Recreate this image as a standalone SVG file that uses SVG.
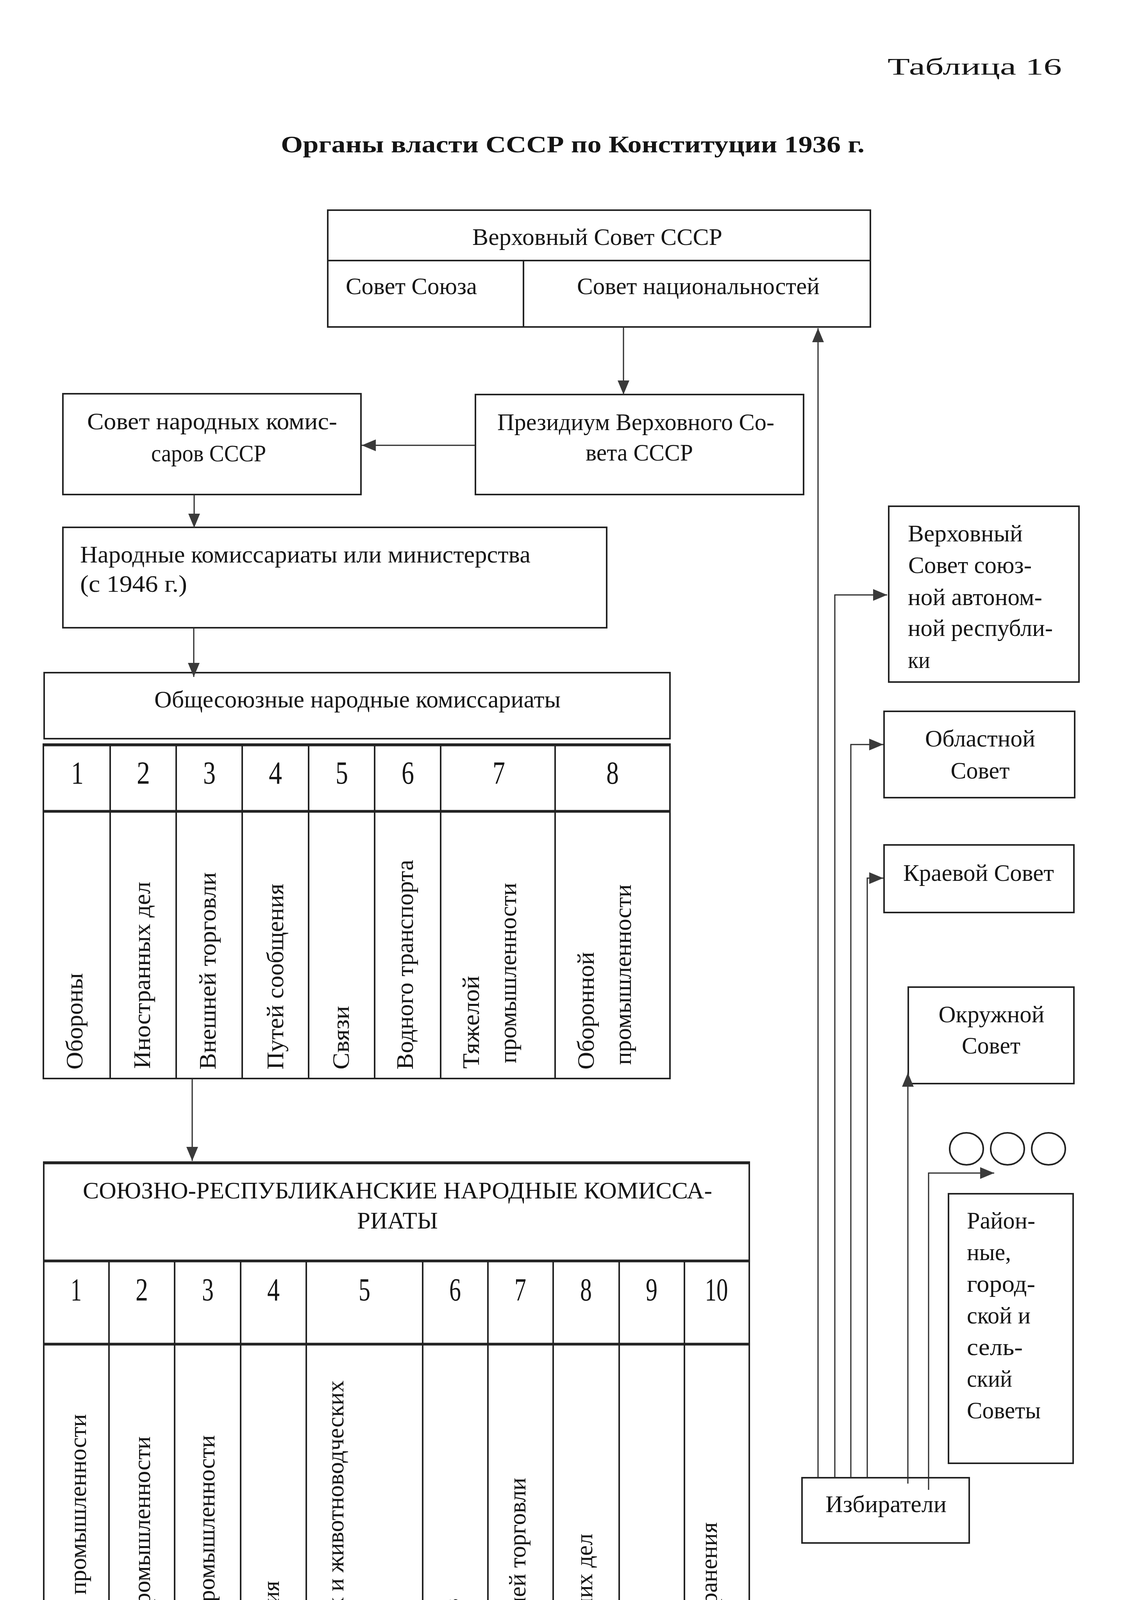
<svg xmlns="http://www.w3.org/2000/svg" width="2931" height="4597" viewBox="0 0 2931 4597">
<style>
text{font-family:"Liberation Serif","Times New Roman",serif;fill:#151515;font-size:62px}
.box{fill:none;stroke:#222;stroke-width:4}
.ln{fill:none;stroke:#222;stroke-width:4}
.thick{fill:none;stroke:#222;stroke-width:7}
.con{fill:none;stroke:#2a2a2a;stroke-width:3}
.num{font-size:82px}
.mid{text-anchor:middle}
</style>
<defs>
<marker id="ah" markerUnits="userSpaceOnUse" markerWidth="36" markerHeight="30" refX="36" refY="15" orient="auto">
<path d="M0,0 L36,15 L0,30 z" fill="#3a3a3a"/>
</marker>
</defs>
<rect width="2931" height="4597" fill="#ffffff"/>

<g id="header">
<text x="2272" y="191" font-size="82" textLength="446" lengthAdjust="spacingAndGlyphs">Таблица 16</text>
<text x="719" y="390" font-size="80" font-weight="bold" textLength="1494" lengthAdjust="spacingAndGlyphs">Органы власти СССР по Конституции 1936 г.</text>
</g>

<g id="supreme-soviet">
<rect class="box" x="839" y="538" width="1389" height="299"/>
<line class="ln" x1="839" y1="667" x2="2228" y2="667"/>
<line class="ln" x1="1340" y1="667" x2="1340" y2="837"/>
<text x="1209" y="627" textLength="640" lengthAdjust="spacingAndGlyphs">Верховный Совет СССР</text>
<text x="885" y="753" textLength="336" lengthAdjust="spacingAndGlyphs">Совет Союза</text>
<text x="1477" y="753" textLength="621" lengthAdjust="spacingAndGlyphs">Совет национальностей</text>
</g>

<g id="presidium">
<rect class="box" x="1217" y="1010" width="840" height="256"/>
<text x="1273" y="1101" textLength="709" lengthAdjust="spacingAndGlyphs">Президиум Верховного Со-</text>
<text x="1499" y="1179" textLength="275" lengthAdjust="spacingAndGlyphs">вета СССР</text>
</g>

<g id="snk">
<rect class="box" x="161" y="1008" width="763" height="258"/>
<text x="223" y="1099" textLength="640" lengthAdjust="spacingAndGlyphs">Совет народных комис-</text>
<text x="387" y="1181" textLength="294" lengthAdjust="spacingAndGlyphs">саров СССР</text>
</g>

<g id="commissariats">
<rect class="box" x="161" y="1350" width="1392" height="257"/>
<text x="205" y="1440" textLength="1153" lengthAdjust="spacingAndGlyphs">Народные комиссариаты или министерства</text>
<text x="205" y="1515" textLength="274" lengthAdjust="spacingAndGlyphs">(с 1946 г.)</text>
</g>

<g id="all-union">
<rect class="box" x="113" y="1722" width="1602" height="169"/>
<text x="395" y="1811" textLength="1040" lengthAdjust="spacingAndGlyphs">Общесоюзные народные комиссариаты</text>
</g>

<g id="all-union-table">
<rect class="box" x="111" y="1905" width="1604" height="856"/>
<line class="thick" x1="111" y1="1907" x2="1715" y2="1907"/>
<line class="thick" x1="111" y1="2077" x2="1715" y2="2077"/>
<line class="ln" x1="282" y1="1905" x2="282" y2="2761"/>
<line class="ln" x1="451" y1="1905" x2="451" y2="2761"/>
<line class="ln" x1="620" y1="1905" x2="620" y2="2761"/>
<line class="ln" x1="790" y1="1905" x2="790" y2="2761"/>
<line class="ln" x1="959" y1="1905" x2="959" y2="2761"/>
<line class="ln" x1="1128" y1="1905" x2="1128" y2="2761"/>
<line class="ln" x1="1421" y1="1905" x2="1421" y2="2761"/>
<g class="num">
<text class="num mid" x="198" y="2006" textLength="32" lengthAdjust="spacingAndGlyphs">1</text>
<text class="num mid" x="367" y="2006" textLength="34" lengthAdjust="spacingAndGlyphs">2</text>
<text class="num mid" x="536" y="2006" textLength="32" lengthAdjust="spacingAndGlyphs">3</text>
<text class="num mid" x="705" y="2006" textLength="34" lengthAdjust="spacingAndGlyphs">4</text>
<text class="num mid" x="875" y="2006" textLength="32" lengthAdjust="spacingAndGlyphs">5</text>
<text class="num mid" x="1044" y="2006" textLength="32" lengthAdjust="spacingAndGlyphs">6</text>
<text class="num mid" x="1277" y="2006" textLength="32" lengthAdjust="spacingAndGlyphs">7</text>
<text class="num mid" x="1568" y="2006" textLength="32" lengthAdjust="spacingAndGlyphs">8</text>
</g>
<text transform="translate(211,2738) rotate(-90)" textLength="247" lengthAdjust="spacingAndGlyphs">Обороны</text>
<text transform="translate(384,2736) rotate(-90)" textLength="479" lengthAdjust="spacingAndGlyphs">Иностранных дел</text>
<text transform="translate(552,2738) rotate(-90)" textLength="505" lengthAdjust="spacingAndGlyphs">Внешней торговли</text>
<text transform="translate(725,2738) rotate(-90)" textLength="476" lengthAdjust="spacingAndGlyphs">Путей сообщения</text>
<text transform="translate(893,2738) rotate(-90)" textLength="163" lengthAdjust="spacingAndGlyphs">Связи</text>
<text transform="translate(1057,2738) rotate(-90)" textLength="537" lengthAdjust="spacingAndGlyphs">Водного транспорта</text>
<text transform="translate(1226,2736) rotate(-90)" textLength="238" lengthAdjust="spacingAndGlyphs">Тяжелой</text>
<text transform="translate(1321,2722) rotate(-90)" textLength="462" lengthAdjust="spacingAndGlyphs">промышленности</text>
<text transform="translate(1520,2738) rotate(-90)" textLength="301" lengthAdjust="spacingAndGlyphs">Оборонной</text>
<text transform="translate(1615,2726) rotate(-90)" textLength="462" lengthAdjust="spacingAndGlyphs">промышленности</text>
</g>

<g id="union-republic-table">
<rect class="box" x="112" y="2975" width="1806" height="1395"/>
<line class="thick" x1="112" y1="2977" x2="1918" y2="2977"/>
<line class="thick" x1="112" y1="3228" x2="1918" y2="3228"/>
<line class="thick" x1="112" y1="3441" x2="1918" y2="3441"/>
<line class="thick" x1="112" y1="4368" x2="1918" y2="4368"/>
<line class="ln" x1="279" y1="3228" x2="279" y2="4370"/>
<line class="ln" x1="447" y1="3228" x2="447" y2="4370"/>
<line class="ln" x1="616" y1="3228" x2="616" y2="4370"/>
<line class="ln" x1="784" y1="3228" x2="784" y2="4370"/>
<line class="ln" x1="1082" y1="3228" x2="1082" y2="4370"/>
<line class="ln" x1="1249" y1="3228" x2="1249" y2="4370"/>
<line class="ln" x1="1416" y1="3228" x2="1416" y2="4370"/>
<line class="ln" x1="1585" y1="3228" x2="1585" y2="4370"/>
<line class="ln" x1="1752" y1="3228" x2="1752" y2="4370"/>
<text x="212" y="3068" font-size="72" textLength="1611" lengthAdjust="spacingAndGlyphs">СОЮЗНО-РЕСПУБЛИКАНСКИЕ НАРОДНЫЕ КОМИССА-</text>
<text x="914" y="3145" font-size="72" textLength="207" lengthAdjust="spacingAndGlyphs">РИАТЫ</text>
<text class="num mid" x="195" y="3329" font-size="80" textLength="28" lengthAdjust="spacingAndGlyphs">1</text>
<text class="num mid" x="363" y="3329" font-size="80" textLength="32" lengthAdjust="spacingAndGlyphs">2</text>
<text class="num mid" x="532" y="3329" font-size="80" textLength="30" lengthAdjust="spacingAndGlyphs">3</text>
<text class="num mid" x="700" y="3329" font-size="80" textLength="32" lengthAdjust="spacingAndGlyphs">4</text>
<text class="num mid" x="933" y="3329" font-size="80" textLength="30" lengthAdjust="spacingAndGlyphs">5</text>
<text class="num mid" x="1165" y="3329" font-size="80" textLength="30" lengthAdjust="spacingAndGlyphs">6</text>
<text class="num mid" x="1332" y="3329" font-size="80" textLength="30" lengthAdjust="spacingAndGlyphs">7</text>
<text class="num mid" x="1500" y="3329" font-size="80" textLength="30" lengthAdjust="spacingAndGlyphs">8</text>
<text class="num mid" x="1668" y="3329" font-size="80" textLength="30" lengthAdjust="spacingAndGlyphs">9</text>
<text class="num mid" x="1834" y="3329" font-size="80" textLength="59" lengthAdjust="spacingAndGlyphs">10</text>
<text transform="translate(220,4341) rotate(-90)" textLength="721" lengthAdjust="spacingAndGlyphs">Пищевой промышленности</text>
<text transform="translate(384,4341) rotate(-90)" textLength="664" lengthAdjust="spacingAndGlyphs">Легкой промышленности</text>
<text transform="translate(549,4341) rotate(-90)" textLength="667" lengthAdjust="spacingAndGlyphs">Лесной промышленности</text>
<text transform="translate(714,4337) rotate(-90)" textLength="290" lengthAdjust="spacingAndGlyphs">Земледелия</text>
<text transform="translate(879,4341) rotate(-90)" textLength="807" lengthAdjust="spacingAndGlyphs">Зерновых и животноводческих</text>
<text transform="translate(975,4341) rotate(-90)" textLength="220" lengthAdjust="spacingAndGlyphs">совхозов</text>
<text transform="translate(1174,4337) rotate(-90)" textLength="245" lengthAdjust="spacingAndGlyphs">Финансов</text>
<text transform="translate(1345,4341) rotate(-90)" textLength="558" lengthAdjust="spacingAndGlyphs">Внутренней торговли</text>
<text transform="translate(1516,4341) rotate(-90)" textLength="415" lengthAdjust="spacingAndGlyphs">Внутренних дел</text>
<text transform="translate(1682,4341) rotate(-90)" textLength="239" lengthAdjust="spacingAndGlyphs">Юстиции</text>
<text transform="translate(1835,4344) rotate(-90)" textLength="447" lengthAdjust="spacingAndGlyphs">Здравоохранения</text>
</g>

<g id="republic-soviet">
<rect class="box" x="2275" y="1296" width="487" height="450"/>
<text x="2324" y="1386" textLength="294" lengthAdjust="spacingAndGlyphs">Верховный</text>
<text x="2325" y="1467" textLength="316" lengthAdjust="spacingAndGlyphs">Совет союз-</text>
<text x="2324" y="1549" textLength="344" lengthAdjust="spacingAndGlyphs">ной автоном-</text>
<text x="2324" y="1628" textLength="371" lengthAdjust="spacingAndGlyphs">ной республи-</text>
<text x="2324" y="1710" textLength="57" lengthAdjust="spacingAndGlyphs">ки</text>
</g>

<g id="oblast-soviet">
<rect class="box" x="2263" y="1821" width="488" height="221"/>
<text class="mid" x="2509" y="1911" textLength="282" lengthAdjust="spacingAndGlyphs">Областной</text>
<text class="mid" x="2509" y="1993" textLength="151" lengthAdjust="spacingAndGlyphs">Совет</text>
</g>

<g id="krai-soviet">
<rect class="box" x="2263" y="2163" width="486" height="173" fill="#f7f7f7"/>
<text x="2312" y="2255" textLength="386" lengthAdjust="spacingAndGlyphs">Краевой Совет</text>
</g>

<g id="okrug-soviet">
<rect class="box" x="2325" y="2527" width="424" height="247"/>
<text class="mid" x="2538" y="2617" textLength="271" lengthAdjust="spacingAndGlyphs">Окружной</text>
<text class="mid" x="2537" y="2697" textLength="150" lengthAdjust="spacingAndGlyphs">Совет</text>
</g>

<g id="circles">
<ellipse cx="2474" cy="2941" rx="43" ry="41" fill="none" stroke="#222" stroke-width="4"/>
<ellipse cx="2579" cy="2941" rx="43" ry="41" fill="none" stroke="#222" stroke-width="4"/>
<ellipse cx="2684" cy="2941" rx="43" ry="41" fill="none" stroke="#222" stroke-width="4"/>
</g>

<g id="local-soviets">
<rect class="box" x="2428" y="3056" width="319" height="690"/>
<text x="2475" y="3145" textLength="175" lengthAdjust="spacingAndGlyphs">Район-</text>
<text x="2475" y="3226" textLength="113" lengthAdjust="spacingAndGlyphs">ные,</text>
<text x="2475" y="3307" textLength="175" lengthAdjust="spacingAndGlyphs">город-</text>
<text x="2475" y="3388" textLength="163" lengthAdjust="spacingAndGlyphs">ской и</text>
<text x="2475" y="3469" textLength="143" lengthAdjust="spacingAndGlyphs">сель-</text>
<text x="2475" y="3550" textLength="116" lengthAdjust="spacingAndGlyphs">ский</text>
<text x="2475" y="3631" textLength="189" lengthAdjust="spacingAndGlyphs">Советы</text>
</g>

<g id="voters">
<rect class="box" x="2053" y="3783" width="428" height="167"/>
<text class="mid" x="2268" y="3871" textLength="310" lengthAdjust="spacingAndGlyphs">Избиратели</text>
</g>

<g id="connectors">
<path class="con" d="M1596,837 V1010" marker-end="url(#ah)"/>
<path class="con" d="M1217,1140 H926" marker-end="url(#ah)"/>
<path class="con" d="M497,1266 V1351" marker-end="url(#ah)"/>
<path class="con" d="M496,1607 V1733" marker-end="url(#ah)"/>
<path class="con" d="M492,2761 V2972" marker-end="url(#ah)"/>
<path class="con" d="M2094,3783 V840" marker-end="url(#ah)"/>
<path class="con" d="M2137,3783 V1523 H2271" marker-end="url(#ah)"/>
<path class="con" d="M2178,3783 V1906 H2261" marker-end="url(#ah)"/>
<path class="con" d="M2220,3783 V2248 H2261" marker-end="url(#ah)"/>
<path class="con" d="M2324,3798 V2746" marker-end="url(#ah)"/>
<path class="con" d="M2377,3814 V3003 H2545" marker-end="url(#ah)"/>
</g>

<g id="page-number">
<text x="1412" y="4560" font-size="76" textLength="96" lengthAdjust="spacingAndGlyphs">139</text>
</g>
</svg>
